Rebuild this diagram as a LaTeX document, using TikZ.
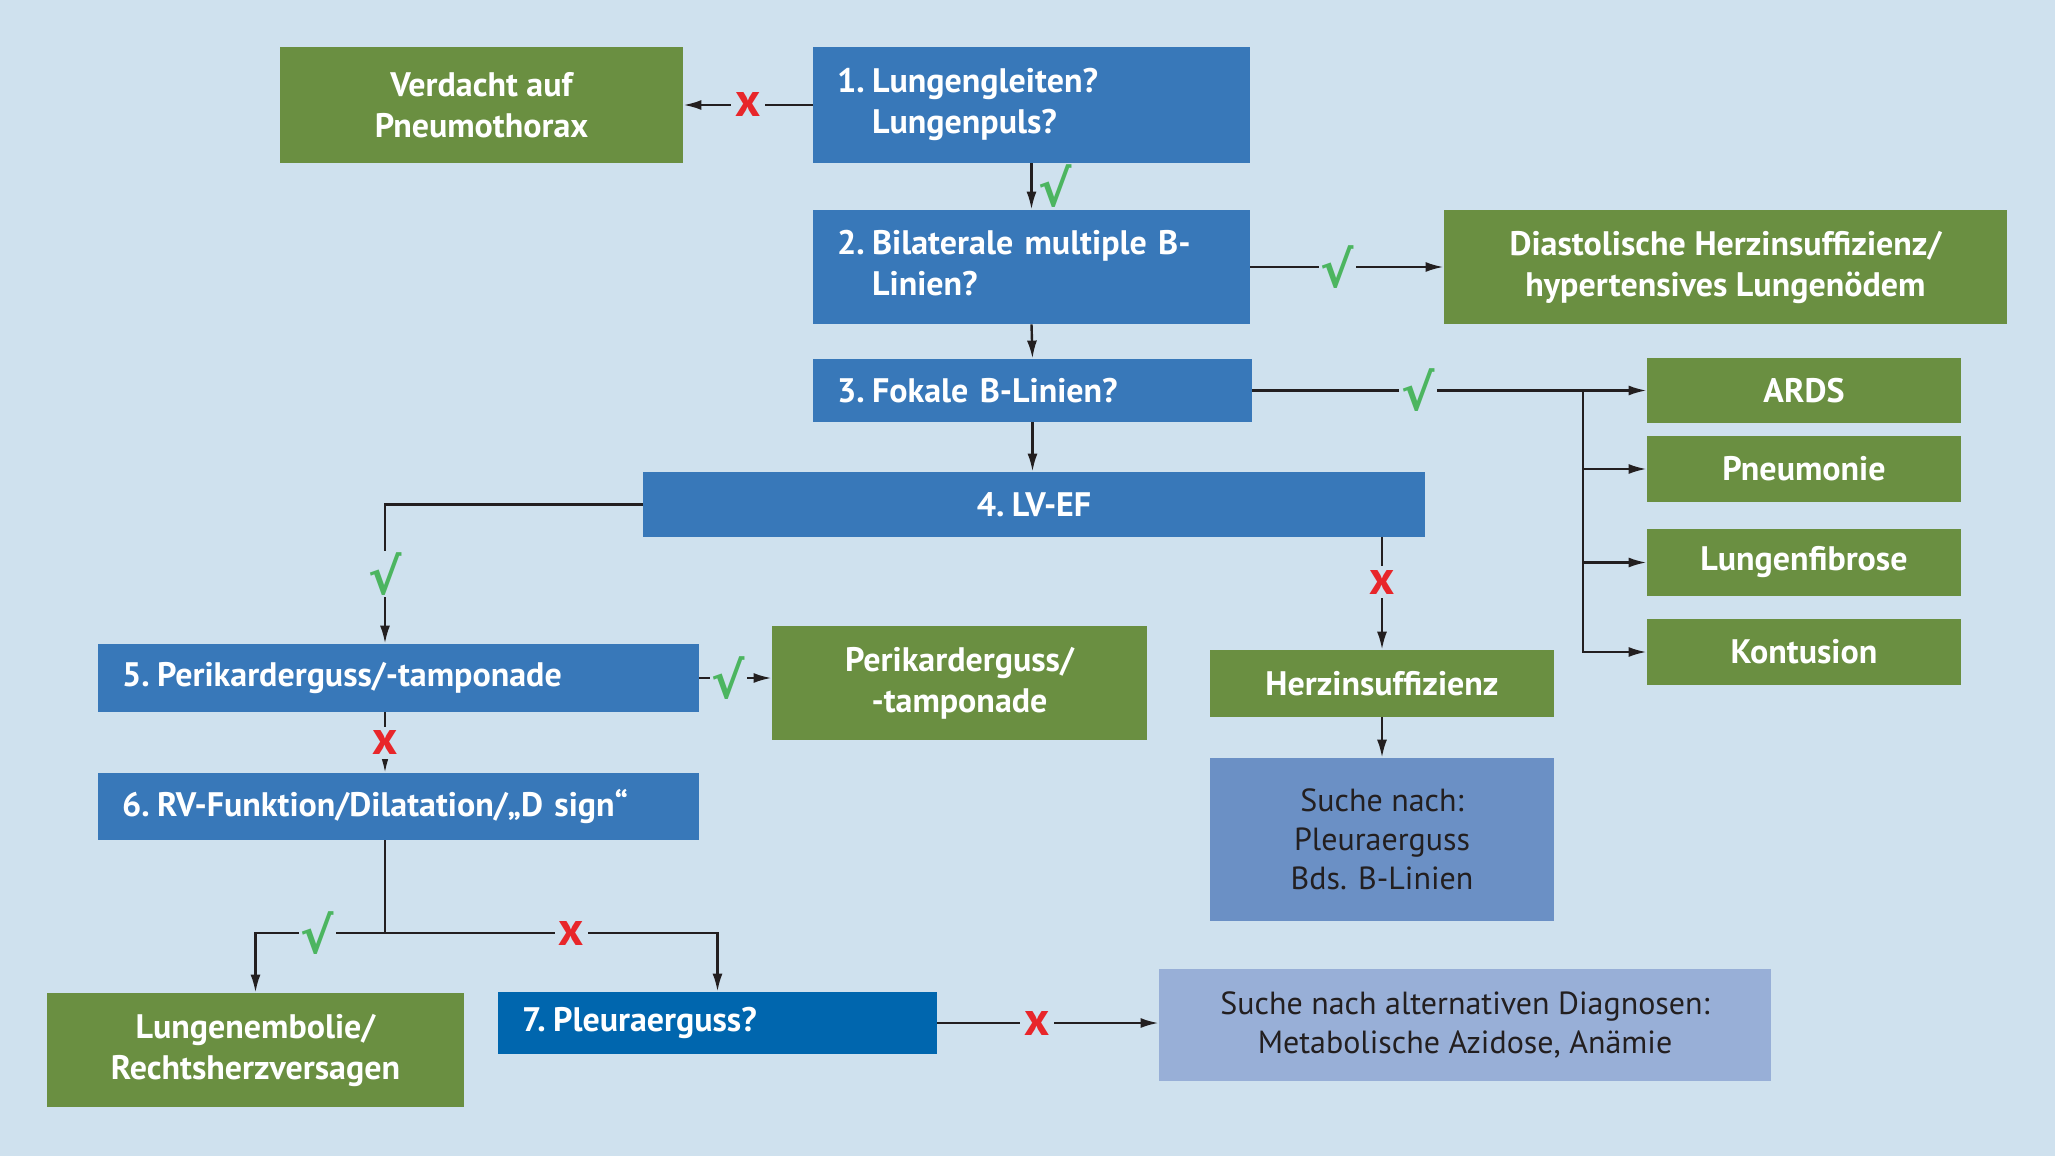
\documentclass[tikz,border=0pt]{standalone}
\usepackage{fontspec}
\setmainfont{PT Sans}
\newfontfamily\symfont{DejaVu Sans}
\usetikzlibrary{arrows.meta}
\definecolor{bg}{HTML}{CFE1EE}
\definecolor{qblue}{HTML}{3878B9}
\definecolor{qdark}{HTML}{0066AE}
\definecolor{dgreen}{HTML}{6A8F41}
\definecolor{sblue}{HTML}{6B90C5}
\definecolor{sblue2}{HTML}{98AFD7}
\definecolor{okgreen}{HTML}{4CB560}
\definecolor{nored}{HTML}{E8262A}
\definecolor{ink}{HTML}{231F20}
\newcommand{\nr}[1]{#1\hspace{0.22em}}
\newcommand{\qtwo}[3]{\begin{tabular}{@{}l@{\hspace{0.22em}}l@{}}#1 & #2\\ & #3\end{tabular}}
\begin{document}
\begin{tikzpicture}[x=0.5pt, y=-0.5pt,
    qbox/.style={fill=qblue, text=white, font=\bfseries\fontsize{17}{20.5}\selectfont,
        inner xsep=12pt, inner ysep=0pt, align=left},
    gbox/.style={fill=dgreen, text=white, font=\bfseries\fontsize{17}{20.5}\selectfont,
        inner sep=0pt, align=center},
    sbox/.style={text=ink, font=\fontsize{16}{19.5}\selectfont, inner sep=0pt, align=center},
    line/.style={draw=ink, line width=1.2pt},
    arr/.style={line, -{Latex[length=9pt, width=5pt]}},
    okmark/.style={fill=bg, text=okgreen, inner sep=1pt, font=\symfont\bfseries\fontsize{25}{25}\selectfont},
    nomark/.style={fill=bg, text=nored, inner sep=2pt, font=\bfseries\fontsize{24}{24}\selectfont}]
    \fill[bg] (0,0) rectangle (2055,1156);
    \node[gbox, minimum width=201.5pt, minimum height=58pt] (verd) at (481.5,105) {Verdacht auf\\Pneumothorax};
    \node[qbox, text width=194.5pt, minimum height=58pt] (q1) at (1031.5,105) {\qtwo{1.}{Lungengleiten?}{Lungenpuls?}};
    \node[qbox, text width=194.5pt, minimum height=57pt] (q2) at (1031.5,267) {\qtwo{2.}{Bilaterale multiple B-}{Linien?}};
    \node[gbox, minimum width=281.5pt, minimum height=57pt] (dias) at (1725.5,267) {Diastolische Herzinsuffizienz/\\hypertensives Lungenödem};
    \node[qbox, text width=195.5pt, minimum height=31.5pt] (q3) at (1032.5,390.5) {\nr{3.}Fokale B-Linien?};
    \node[gbox, minimum width=157pt, minimum height=32.5pt] (ards) at (1804,390.5) {ARDS};
    \node[gbox, minimum width=157pt, minimum height=33pt] (pneu) at (1804,469) {Pneumonie};
    \node[gbox, minimum width=157pt, minimum height=33.5pt] (fibr) at (1804,562.5) {Lungenfibrose};
    \node[gbox, minimum width=157pt, minimum height=33pt] (kont) at (1804,652) {Kontusion};
    \node[qbox, text width=367pt, align=center, minimum height=32.5pt] (q4) at (1034,504.5) {\nr{4.}LV-EF};
    \node[qbox, text width=276.5pt, minimum height=34pt] (q5) at (398.5,678) {\nr{5.}Perikarderguss/-tamponade};
    \node[gbox, minimum width=187.5pt, minimum height=57pt] (peri) at (959.5,683) {Perikarderguss/\\-tamponade};
    \node[gbox, minimum width=172pt, minimum height=33.5pt] (herz) at (1382,683.5) {Herzinsuffizienz};
    \node[sbox, fill=sblue, minimum width=172pt, minimum height=81.5pt] (such) at (1382,839.5) {Suche nach:\\Pleuraerguss\\Bds. B-Linien};
    \node[qbox, text width=276.5pt, minimum height=33.5pt] (q6) at (398.5,806.5) {\nr{6.}RV-Funktion/Dilatation/„D sign“};
    \node[gbox, minimum width=208.5pt, minimum height=57pt] (lemb) at (255.5,1050) {Lungenembolie/\\Rechtsherzversagen};
    \node[qbox, fill=qdark, text width=195.5pt, minimum height=31pt] (q7) at (717.5,1023) {\nr{7.}Pleuraerguss?};
    \node[sbox, fill=sblue2, minimum width=306pt, minimum height=56pt] (alt) at (1465,1025) {Suche nach alternativen Diagnosen:\\Metabolische Azidose, Anämie};
    \coordinate (br) at (1583,390.5);
    \coordinate (c5) at (385,0);
    \coordinate (j6) at (385,933);
    \draw[arr] (q1.west) -- (verd.east) node[nomark, midway] {x};
    \draw[arr] (q1.south) -- (q2.north) node[okmark, fill=none, midway, right, xshift=2pt] {√};
    \draw[arr] (q2.east) -- (dias.west) node[okmark, pos=0.45] {√};
    \draw[arr] (q2.south) -- (q3.north);
    \draw[arr] (q3.east) -- (ards.west) node[okmark, pos=0.42] {√};
    \draw[arr] (br) |- (pneu.west);
    \draw[arr] (br) |- (fibr.west);
    \draw[arr] (br) |- (kont.west);
    \draw[arr] (q3.south) -- (q3.south |- q4.north);
    \draw[arr] (q4.west) -| (c5 |- q5.north) node[okmark, pos=0.75] {√};
    \draw[arr] (herz.north |- q4.south) -- (herz.north) node[nomark, pos=0.4] {x};
    \draw[arr] (herz.south) -- (such.north);
    \draw[arr] (q5.east) -- (q5.east -| peri.west) node[okmark, pos=0.4] {√};
    \draw[arr] (c5 |- q5.south) -- (c5 |- q6.north) node[nomark, midway] {x};
    \draw[line] (c5 |- q6.south) -- (j6);
    \draw[arr] (j6) -| (lemb.north) node[okmark, pos=0.26] {√};
    \draw[arr] (j6) -| (q7.north) node[nomark, pos=0.28] {x};
    \draw[arr] (q7.east) -- (q7.east -| alt.west) node[nomark, pos=0.45] {x};
\end{tikzpicture}
\end{document}
